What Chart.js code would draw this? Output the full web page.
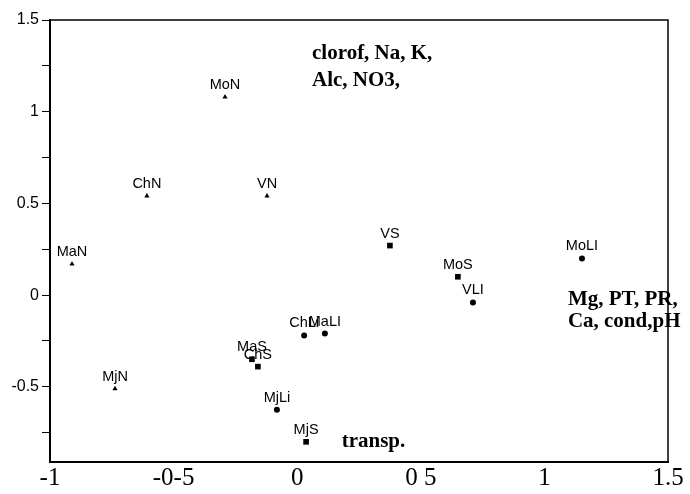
<!DOCTYPE html>
<html>
<head>
<meta charset="utf-8">
<script src="https://cdn.jsdelivr.net/npm/chart.js@4/dist/chart.umd.min.js"></script>
<style>
html,body{margin:0;padding:0;background:#fff;}
#wrap{width:690px;height:494px;}
</style>
</head>
<body>
<div id="wrap"><canvas id="c" width="690" height="494"></canvas></div>
<script>
// Group N (triangles)
const nNames = ["MoN", "ChN", "VN", "MaN", "MjN"];
const nX = [-0.292, -0.608, -0.122, -0.911, -0.737];
const nY = [1.08, 0.54, 0.54, 0.17, -0.51];
// Group Li (circles)
const liNames = ["ChLi", "MaLI", "MoLI", "VLI", "MjLi"];
const liX = [0.028, 0.112, 1.152, 0.711, -0.082];
const liY = [-0.22, -0.21, 0.20, -0.04, -0.625];
// Group S (squares)
const sNames = ["VS", "MoS", "MaS", "ChS", "MjS"];
const sX = [0.375, 0.650, -0.183, -0.159, 0.036];
const sY = [0.27, 0.10, -0.35, -0.39, -0.80];

// Axis tick labels
const xTickValues = [-1, -0.5, 0, 0.5, 1, 1.5];
const xTickLabels = ["-1", "-0-5", "0", "0 5", "1", "1.5"];
const yTickValues = [-0.5, 0, 0.5, 1, 1.5];
const yTickLabels = ["-0.5", "0", "0.5", "1", "1.5"];

// Variable annotations
const annoLines = [
  ["clorof, Na, K,", 0.06, 1.29],
  ["Alc, NO3,", 0.06, 1.14],
  ["Mg, PT, PR,", 1.095, -0.055],
  ["Ca, cond,pH", 1.095, -0.175],
  ["transp.", 0.18, -0.83]
];

function pts(xs, ys) { return xs.map((x, i) => ({x: x, y: ys[i]})); }

const labelPlugin = {
  id: 'pointLabels',
  afterDatasetsDraw(chart) {
    const ctx = chart.ctx;
    ctx.save();
    ctx.fillStyle = '#000';
    ctx.font = '14.5px "Liberation Sans", Arial, sans-serif';
    ctx.textAlign = 'center';
    ctx.textBaseline = 'alphabetic';
    chart.data.datasets.forEach((ds, di) => {
      const meta = chart.getDatasetMeta(di);
      meta.data.forEach((el, i) => {
        ctx.fillText(ds.names[i], el.x, el.y - 8);
      });
    });
    // annotations
    const xs = chart.scales.x, ys = chart.scales.y;
    ctx.font = 'bold 21px "Liberation Serif", "Times New Roman", serif';
    ctx.textAlign = 'left';
    ctx.textBaseline = 'alphabetic';
    annoLines.forEach(a => {
      ctx.fillText(a[0], xs.getPixelForValue(a[1]), ys.getPixelForValue(a[2]));
    });
    // top and right frame
    const ca = chart.chartArea;
    ctx.strokeStyle = '#000';
    ctx.lineWidth = 1.5;
    ctx.beginPath();
    ctx.moveTo(ca.left, ca.top);
    ctx.lineTo(ca.right, ca.top);
    ctx.lineTo(ca.right, ca.bottom);
    ctx.stroke();
    ctx.restore();
  }
};

new Chart(document.getElementById('c'), {
  type: 'scatter',
  data: {
    datasets: [
      {names: nNames, data: pts(nX, nY), pointStyle: 'triangle', pointRadius: 3, backgroundColor: '#000', borderColor: '#000', borderWidth: 0},
      {names: liNames, data: pts(liX, liY), pointStyle: 'circle', pointRadius: 3, backgroundColor: '#000', borderColor: '#000', borderWidth: 0},
      {names: sNames, data: pts(sX, sY), pointStyle: 'rect', pointRadius: 4, backgroundColor: '#000', borderColor: '#000', borderWidth: 0}
    ]
  },
  options: {
    responsive: false,
    animation: false,
    events: [],
    layout: {padding: {top: 20, right: 22, left: 0, bottom: 0}},
    plugins: {legend: {display: false}, tooltip: {enabled: false}},
    scales: {
      x: {
        type: 'linear', min: -1, max: 1.5,
        afterFit(s) { s.height = 32; },
        afterBuildTicks(s) { s.ticks = xTickValues.map(v => ({value: v})); },
        border: {display: true, color: '#000', width: 2},
        grid: {display: true, drawOnChartArea: false, drawTicks: false},
        ticks: {
          padding: 1, color: '#000', maxRotation: 0, autoSkip: false,
          font: {family: '"Liberation Serif", "Times New Roman", serif', size: 25},
          callback(v) { const i = xTickValues.indexOf(v); return i >= 0 ? xTickLabels[i] : ''; }
        }
      },
      y: {
        type: 'linear', min: -0.91, max: 1.5,
        afterFit(s) { s.width = 50; },
        afterBuildTicks(s) { const t = []; for (let k = -3; k <= 6; k++) t.push({value: k * 0.25}); s.ticks = t; },
        border: {display: true, color: '#000', width: 2},
        grid: {display: true, drawOnChartArea: false, drawTicks: true, tickLength: 8, color: '#000', lineWidth: 1},
        ticks: {
          padding: 3, color: '#000', autoSkip: false,
          font: {family: '"Liberation Sans", Arial, sans-serif', size: 16},
          callback(v) { const i = yTickValues.indexOf(v); return i >= 0 ? yTickLabels[i] : ''; }
        }
      }
    }
  },
  plugins: [labelPlugin]
});
</script>
</body>
</html>
